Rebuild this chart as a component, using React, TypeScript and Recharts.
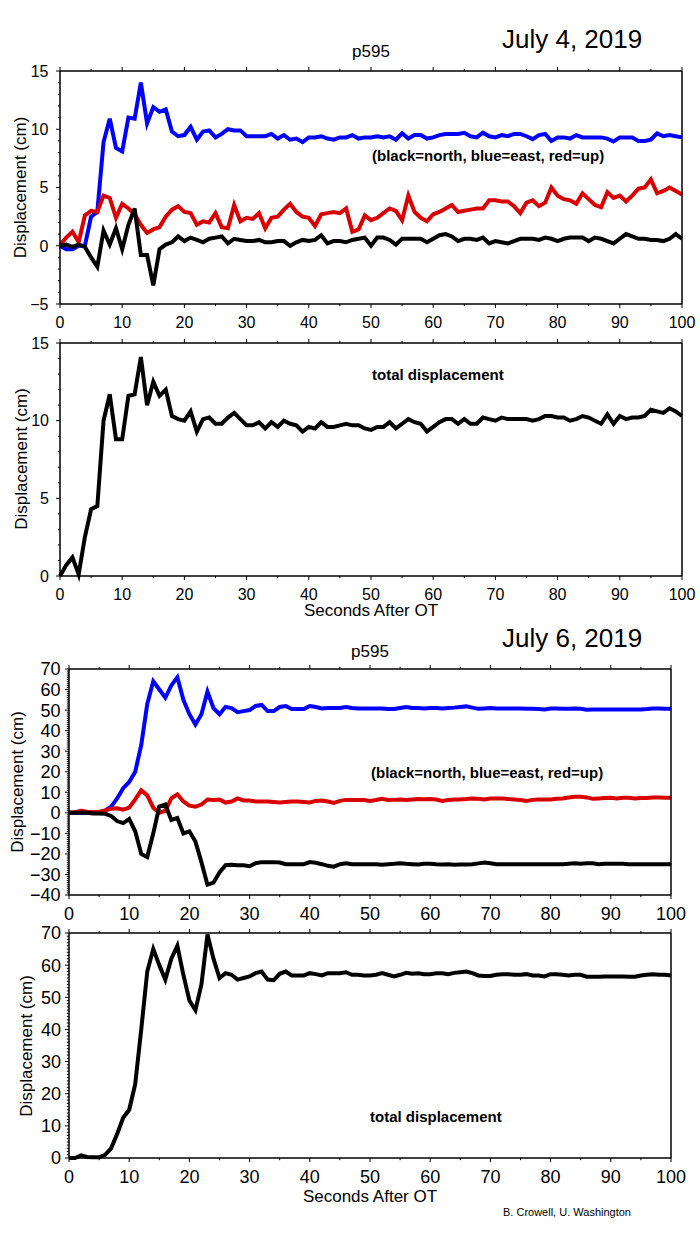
import React from 'react';
import { LineChart, Line, XAxis, YAxis } from 'recharts';

const FONT = "'Liberation Sans', Arial, Helvetica, sans-serif";

// ---------- data ----------
const seconds = Array.from({ length: 101 }, (_, i) => i);

// July 4, 2019 components (cm)
const north1 = [
  0, 0.1, -0.1, 0.1, -0.1, -1.0, -1.8, 1.3, 0.1, 1.5,
  -0.3, 1.8, 3.2, -0.8, -0.8, -3.4, -0.3, 0.1, 0.3, 0.8,
  0.4, 0.7, 0.5, 0.3, 0.6, 0.7, 0.8, 0.2, 0.6, 0.5,
  0.4, 0.4, 0.5, 0.3, 0.3, 0.4, 0.4, 0.0, 0.3, 0.5,
  0.4, 0.5, 0.9, 0.2, 0.4, 0.4, 0.3, 0.5, 0.6, 0.7,
  0.0, 0.7, 0.7, 0.5, 0.1, 0.6, 0.6, 0.6, 0.6, 0.3,
  0.6, 0.9, 1.0, 0.8, 0.4, 0.6, 0.6, 0.5, 0.7, 0.2,
  0.4, 0.3, 0.2, 0.4, 0.6, 0.6, 0.6, 0.5, 0.7, 0.6,
  0.4, 0.6, 0.7, 0.7, 0.7, 0.4, 0.7, 0.6, 0.4, 0.2,
  0.6, 1.0, 0.8, 0.6, 0.6, 0.5, 0.5, 0.4, 0.6, 1.0, 0.6,
];
const east1 = [
  0, -0.3, -0.3, 0, 0, 2.5, 2.9, 8.9, 10.9, 8.4,
  8.1, 11.0, 10.9, 14.0, 10.5, 11.9, 11.5, 11.7, 9.8, 9.4,
  9.5, 10.2, 9.1, 9.8, 9.9, 9.3, 9.6, 10.0, 9.9, 9.9,
  9.4, 9.4, 9.4, 9.4, 9.6, 9.2, 9.5, 9.1, 9.2, 8.9,
  9.3, 9.3, 9.4, 9.2, 9.1, 9.3, 9.3, 9.5, 9.2, 9.3,
  9.3, 9.4, 9.3, 9.4, 9.1, 9.65, 9.2, 9.5, 9.5, 9.2,
  9.3, 9.5, 9.6, 9.6, 9.6, 9.7, 9.4, 9.3, 9.7, 9.4,
  9.3, 9.5, 9.4, 9.6, 9.6, 9.4, 9.15, 9.5, 9.6, 9.0,
  9.3, 9.3, 9.2, 9.5, 9.3, 9.3, 9.3, 9.3, 9.2, 8.95,
  9.3, 9.3, 9.3, 9.0, 9.0, 9.1, 9.65, 9.4, 9.5, 9.4, 9.3,
];
const up1 = [
  0.1, 0.7, 1.2, 0.3, 2.6, 3.0, 2.9, 4.3, 4.1, 2.4,
  3.6, 3.2, 2.7, 1.8, 1.1, 1.4, 1.6, 2.5, 3.1, 3.4,
  2.9, 2.8, 1.8, 2.1, 2.0, 2.8, 1.6, 1.5, 3.5, 2.1,
  2.4, 2.3, 2.8, 1.5, 2.4, 2.5, 3.1, 3.6, 2.9, 2.5,
  2.4, 1.7, 2.7, 2.8, 2.9, 2.8, 3.2, 1.2, 1.4, 2.6,
  2.2, 2.4, 2.8, 3.2, 3.0, 2.2, 4.3, 2.9, 2.4, 2.1,
  2.7, 2.9, 3.2, 3.5, 2.9, 3.0, 3.1, 3.2, 3.2, 3.9,
  3.9, 3.8, 3.8, 3.4, 2.8, 3.7, 3.9, 3.4, 3.7, 5.0,
  4.3, 4.0, 3.9, 3.6, 4.5, 4.0, 3.5, 3.3, 4.6, 4.1,
  4.3, 3.8, 4.3, 4.9, 5.0, 5.7, 4.5, 4.7, 5.0, 4.7, 4.4,
];
const total1 = [
  0, 0.7, 1.2, 0.1, 2.5, 4.3, 4.5, 10.0, 11.7, 8.8,
  8.8, 11.6, 11.7, 14.1, 11.0, 12.5, 11.6, 12.0, 10.3, 10.1,
  10.0, 10.6, 9.3, 10.1, 10.2, 9.8, 9.8, 10.2, 10.5, 10.1,
  9.7, 9.7, 9.9, 9.5, 9.9, 9.6, 10.0, 9.8, 9.7, 9.3,
  9.6, 9.5, 9.9, 9.6, 9.6, 9.7, 9.8, 9.7, 9.7, 9.5,
  9.4, 9.6, 9.6, 9.9, 9.5, 9.8, 10.1, 9.9, 9.8, 9.3,
  9.6, 9.9, 10.1, 10.1, 9.8, 10.1, 9.8, 9.8, 10.2, 10.1,
  10.0, 10.2, 10.1, 10.1, 10.1, 10.1, 10.0, 10.1, 10.3, 10.3,
  10.2, 10.2, 10.0, 10.1, 10.3, 10.2, 10.0, 9.8, 10.4, 9.8,
  10.3, 10.1, 10.2, 10.2, 10.3, 10.7, 10.6, 10.5, 10.8, 10.6, 10.3,
];

// July 6, 2019 components (cm)
const north2 = [
  0, 0, 0, 0, -0.3, -0.3, -0.5, -1.5, -4, -5,
  -3, -9, -20, -21.5, -10, 3, 4, -3.5, -2.5, -10,
  -9, -14, -24, -35, -34, -29, -25.5, -25.3, -25.5, -25.5,
  -26, -24.5, -24, -24, -24, -24.2, -25, -25, -25, -25,
  -24, -24.3, -25, -25.8, -26.2, -25, -24.5, -25, -25, -25,
  -25, -25, -25.3, -25, -24.8, -24.5, -24.8, -25, -25.2, -24.8,
  -24.8, -25, -25.1, -25, -25.3, -25.2, -25.2, -25, -24.6, -24.2,
  -24.5, -25, -25, -25, -25, -25, -25, -25, -25, -25,
  -25, -25, -25, -24.8, -24.6, -24.8, -24.6, -24.6, -25, -24.8,
  -24.8, -24.8, -24.8, -25, -25, -25, -25, -25, -25, -25, -25,
];
const east2 = [
  0, 0, 0, 0, 0, 0, 1, 3, 7, 12,
  15, 20, 33, 53, 64, 60, 56, 62, 66, 55,
  48, 43, 48, 59, 51, 48, 51.5, 51, 49, 49.5,
  50, 52, 52.5, 49.5, 49.5, 51.5, 52, 50.5, 50.5, 50.5,
  52, 51.5, 50.8, 51, 51, 51, 51.5, 51, 50.8, 50.8,
  50.8, 50.8, 50.8, 50.5, 50.5, 51, 51.5, 51, 51, 50.8,
  51, 51, 50.8, 51, 51.2, 51.5, 51.8, 51.2, 50.6, 50.8,
  51, 50.8, 50.8, 50.8, 50.8, 50.8, 50.6, 50.6, 50.5, 50.3,
  50.8, 50.8, 50.6, 50.6, 50.8, 50.6, 50.2, 50.3, 50.3, 50.3,
  50.3, 50.3, 50.3, 50.3, 50.3, 50.3, 50.5, 50.8, 50.8, 50.7, 50.7,
];
const up2 = [
  0, 0.3, 1, 0.5, 0.3, 0.5, 1.2, 2, 2.2, 1.5,
  2.5, 6.5, 11, 8.5, 2.5, 0, 1, 7, 9, 5.5,
  3.5, 3, 4, 6.5, 6.2, 6.5, 5, 5.5, 7, 6,
  6, 5.5, 5.5, 5.5, 5.3, 5, 5.3, 5.5, 5.5, 5.3,
  5, 5.8, 6, 5.5, 4.8, 5.8, 6.3, 6.3, 6.2, 6.2,
  5.8, 6.2, 6.8, 6.2, 6.3, 6.5, 6.3, 6.5, 6.7, 6.6,
  6.7, 6.5, 5.8, 6.2, 6.5, 6.5, 6.7, 7, 6.8, 6.5,
  7, 7, 7, 6.7, 6.5, 6.2, 5.8, 6.3, 6.5, 6.5,
  6.5, 6.8, 7, 7.5, 7.8, 7.8, 7.5, 6.8, 7, 7.2,
  7.3, 7, 7.3, 7.3, 7, 7.2, 7.2, 7.5, 7.5, 7.3, 7.3,
];
const total2 = [
  0, 0, 0.8, 0.3, 0.2, 0.2, 1, 3, 7.5, 12.5,
  15, 23, 40, 58, 65, 60, 55.5, 62, 66, 57,
  49, 46, 54, 69.5, 62, 56, 57.5, 57, 55.5, 56,
  56.5, 57.5, 58, 55.5, 55.3, 57.3, 58, 56.8, 56.8, 56.8,
  57.5, 57.2, 56.8, 57.5, 57.5, 57.5, 57.8, 57, 57, 56.8,
  56.8, 57, 57.5, 57, 56.5, 57, 57.6, 57.3, 57.5, 57.2,
  57.2, 57.5, 57.5, 57.2, 57.6, 57.8, 58, 57.5, 56.8, 56.6,
  56.6, 57, 57.2, 57.2, 57, 57, 57.2, 56.8, 56.8, 56.5,
  57.2, 57.2, 57, 56.8, 57, 57, 56.4, 56.4, 56.4, 56.5,
  56.5, 56.5, 56.5, 56.4, 56.4, 56.8, 57, 57.2, 57, 57, 56.8,
];

// tick values (labels are drawn on majors only)
const xTicks = [0, 5, 10, 15, 20, 25, 30, 35, 40, 45, 50, 55, 60, 65, 70, 75, 80, 85, 90, 95, 100];
const y1Labels = [-5, 0, 5, 10, 15];
const y2Labels = [0, 5, 10, 15];
const y3Labels = [-40, -30, -20, -10, 0, 10, 20, 30, 40, 50, 60, 70];
const y4Labels = [0, 10, 20, 30, 40, 50, 60, 70];

const minorSteps = (lo: number, hi: number) => {
  const out: number[] = [];
  for (let v = lo; v <= hi; v += 1) out.push(v);
  return out;
};

const rows1 = seconds.map((t, i) => ({ t, n: north1[i], e: east1[i], u: up1[i], tot: total1[i] }));
const rows2 = seconds.map((t, i) => ({ t, n: north2[i], e: east2[i], u: up2[i], tot: total2[i] }));

const BLUE = '#0000ff';
const RED = '#d80000';
const BLACK = '#000000';

const fmt = (v: number) => (v < 0 ? '\u2212' + Math.abs(v) : String(v));

type Side = 'left' | 'right' | 'top' | 'bottom';

function tickRenderer(side: Side, majorEvery: number, fontSize: number, labels: boolean, gap: number) {
  return (props: any) => {
    const { x, y, payload } = props;
    const v = Number(payload.value);
    const isMajor = Math.abs(v / majorEvery - Math.round(v / majorEvery)) < 1e-6;
    const len = isMajor ? 4 : 2.2;
    let line: any = null;
    let label: any = null;
    const st = { stroke: '#000', strokeWidth: 1 };
    if (side === 'left') {
      line = <line x1={x - len} x2={x} y1={y} y2={y} {...st} />;
      if (labels && isMajor)
        label = (
          <text x={x - gap} y={y + fontSize * 0.36} textAnchor="end" fontSize={fontSize} fontFamily={FONT} fill="#000">
            {fmt(v)}
          </text>
        );
    } else if (side === 'right') {
      line = <line x1={x} x2={x + len} y1={y} y2={y} {...st} />;
    } else if (side === 'top') {
      line = <line x1={x} x2={x} y1={y - len} y2={y} {...st} />;
    } else {
      line = <line x1={x} x2={x} y1={y} y2={y + len} {...st} />;
      if (labels && isMajor)
        label = (
          <text x={x} y={y + gap} textAnchor="middle" fontSize={fontSize} fontFamily={FONT} fill="#000">
            {fmt(v)}
          </text>
        );
    }
    return (
      <g>
        {line}
        {label}
      </g>
    );
  };
}

type Cfg = {
  left: number;
  right: number;
  top: number;
  bottom: number;
  domain: [number, number];
  yMajor: number;
  yTicks: number[];
  font: number;
  yGap: number;
  xGap: number;
};

const axisLineStyle = { stroke: '#000', strokeWidth: 1.5 };

function Panel({ cfg, data, series }: { cfg: Cfg; data: any[]; series: { key: string; color: string }[] }) {
  const W = 700;
  const H = 1244;
  return (
    <div style={{ position: 'absolute', left: 0, top: 0 }}>
      <LineChart width={W} height={H} data={data} margin={{ top: 0, right: 0, bottom: 0, left: 0 }}>
        <XAxis
          xAxisId="b"
          dataKey="t"
          type="number"
          domain={[0, 100]}
          ticks={xTicks}
          interval={0}
          orientation="bottom"
          height={H - cfg.bottom}
          tickSize={0}
          tickMargin={0}
          tickLine={false}
          axisLine={axisLineStyle}
          tick={tickRenderer('bottom', 10, cfg.font, true, cfg.xGap)}
        />
        <XAxis
          xAxisId="t"
          dataKey="t"
          type="number"
          domain={[0, 100]}
          ticks={xTicks}
          interval={0}
          orientation="top"
          height={cfg.top}
          tickSize={0}
          tickMargin={0}
          tickLine={false}
          axisLine={axisLineStyle}
          tick={tickRenderer('top', 10, cfg.font, false, 0)}
        />
        <YAxis
          yAxisId="l"
          type="number"
          domain={cfg.domain}
          ticks={cfg.yTicks}
          interval={0}
          orientation="left"
          width={cfg.left}
          tickSize={0}
          tickMargin={0}
          tickLine={false}
          axisLine={axisLineStyle}
          tick={tickRenderer('left', cfg.yMajor, cfg.font, true, cfg.yGap)}
        />
        <YAxis
          yAxisId="r"
          type="number"
          domain={cfg.domain}
          ticks={cfg.yTicks}
          interval={0}
          orientation="right"
          width={W - cfg.right}
          tickSize={0}
          tickMargin={0}
          tickLine={false}
          axisLine={axisLineStyle}
          tick={tickRenderer('right', cfg.yMajor, cfg.font, false, 0)}
        />
        {series.map((s) => (
          <Line
            key={s.key}
            xAxisId="b"
            yAxisId="l"
            type="linear"
            dataKey={s.key}
            stroke={s.color}
            strokeWidth={4}
            dot={false}
            isAnimationActive={false}
          />
        ))}
      </LineChart>
    </div>
  );
}

const cfg1: Cfg = { left: 60, right: 682, top: 71, bottom: 304, domain: [-5, 15], yMajor: 5, yTicks: minorSteps(-5, 15), font: 16, yGap: 11.5, xGap: 23.5 };
const cfg2: Cfg = { left: 60, right: 682, top: 343, bottom: 576, domain: [0, 15], yMajor: 5, yTicks: minorSteps(0, 15), font: 16, yGap: 11, xGap: 23.5 };
const cfg3: Cfg = { left: 69, right: 671, top: 669, bottom: 895, domain: [-40, 70], yMajor: 10, yTicks: minorSteps(-40, 70), font: 18, yGap: 8.5, xGap: 25 };
const cfg4: Cfg = { left: 69, right: 671, top: 933, bottom: 1158, domain: [0, 70], yMajor: 10, yTicks: minorSteps(0, 70), font: 18, yGap: 8, xGap: 25 };

// keep label arrays referenced (major ticks)
void y1Labels; void y2Labels; void y3Labels; void y4Labels;

const compSeries = [
  { key: 'e', color: BLUE },
  { key: 'u', color: RED },
  { key: 'n', color: BLACK },
];
const totSeries = [{ key: 'tot', color: BLACK }];

function YTitle({ x, y }: { x: number; y: number }) {
  return (
    <text transform={`translate(${x},${y}) rotate(-90)`} textAnchor="middle" dy="0.35em" fontSize={17} fontFamily={FONT} fill="#000">
      Displacement (cm)
    </text>
  );
}

export default function App() {
  return (
    <div style={{ position: 'absolute', left: 0, top: 0, width: 700, height: 1244, background: '#fff', overflow: 'hidden' }}>
      <Panel cfg={cfg1} data={rows1} series={compSeries} />
      <Panel cfg={cfg2} data={rows1} series={totSeries} />
      <Panel cfg={cfg3} data={rows2} series={compSeries} />
      <Panel cfg={cfg4} data={rows2} series={totSeries} />
      <svg width={700} height={1244} style={{ position: 'absolute', left: 0, top: 0, pointerEvents: 'none' }}>
        <text x={502} y={48} fontSize={26} fontFamily={FONT} fill="#000">July 4, 2019</text>
        <text x={371} y={57} textAnchor="middle" fontSize={17} fontFamily={FONT} fill="#000">p595</text>
        <text x={372} y={161} fontSize={15} fontWeight="bold" fontFamily={FONT} fill="#000">(black=north, blue=east, red=up)</text>
        <YTitle x={20} y={187.5} />
        <text x={372} y={380} fontSize={15} fontWeight="bold" fontFamily={FONT} fill="#000">total displacement</text>
        <YTitle x={21} y={459} />
        <text x={371} y={616} textAnchor="middle" fontSize={17} fontFamily={FONT} fill="#000">Seconds After OT</text>

        <text x={502} y={647} fontSize={26} fontFamily={FONT} fill="#000">July 6, 2019</text>
        <text x={370} y={657} textAnchor="middle" fontSize={17} fontFamily={FONT} fill="#000">p595</text>
        <text x={371} y={778} fontSize={15} fontWeight="bold" fontFamily={FONT} fill="#000">(black=north, blue=east, red=up)</text>
        <YTitle x={17.5} y={782} />
        <text x={370} y={1122} fontSize={15} fontWeight="bold" fontFamily={FONT} fill="#000">total displacement</text>
        <YTitle x={26.5} y={1046} />
        <text x={370} y={1202} textAnchor="middle" fontSize={17} fontFamily={FONT} fill="#000">Seconds After OT</text>
        <text x={503} y={1216} fontSize={11} fontFamily={FONT} fill="#000">B. Crowell, U. Washington</text>
      </svg>
    </div>
  );
}
